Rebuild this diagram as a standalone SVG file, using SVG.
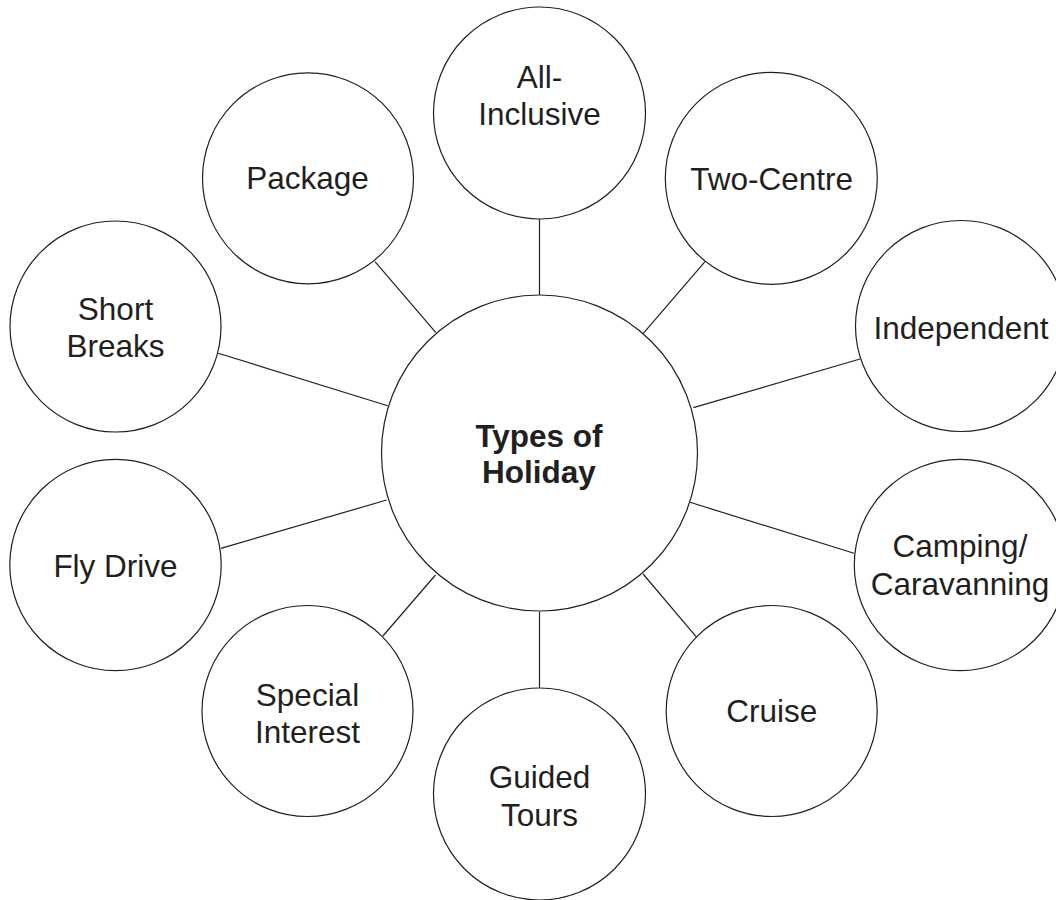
<svg xmlns="http://www.w3.org/2000/svg" width="1056" height="900" viewBox="0 0 1056 900">
<style>
.n{fill:#fff;stroke:#231f20;stroke-width:1.2}
.t{font-family:"Liberation Sans",Arial,sans-serif;font-size:31.5px;fill:#231f20;text-anchor:middle}
.b{font-weight:bold}
.c line{stroke:#231f20;stroke-width:1.2}
</style>
<rect width="1056" height="900" fill="#fff"/>
<g id="connectors" class="c">
<line x1="539.5" y1="219" x2="539.5" y2="295"/>
<line x1="375" y1="261.7" x2="435.7" y2="332.3"/>
<line x1="705" y1="261.7" x2="643.3" y2="333.3"/>
<line x1="218.3" y1="353.3" x2="387.7" y2="405.7"/>
<line x1="860" y1="359" x2="693.3" y2="407.7"/>
<line x1="221" y1="548.3" x2="386.7" y2="500"/>
<line x1="690" y1="502.3" x2="854" y2="553.3"/>
<line x1="382.9" y1="636" x2="435.5" y2="575"/>
<line x1="643.1" y1="574" x2="696.7" y2="637.3"/>
<line x1="539.5" y1="611.7" x2="539.5" y2="688.3"/>
</g>
<g id="center">
<circle class="n" cx="539.5" cy="453" r="158"/>
<text class="t b" x="539" y="446.7">Types of</text>
<text class="t b" x="539" y="483.3">Holiday</text>
</g>
<g id="all-inclusive">
<circle class="n" cx="539.5" cy="113" r="106"/>
<text class="t" x="539.5" y="88.3">All-</text>
<text class="t" x="539.5" y="125">Inclusive</text>
</g>
<g id="package">
<circle class="n" cx="308" cy="178.3" r="105.5"/>
<text class="t" x="307.5" y="189.3">Package</text>
</g>
<g id="two-centre">
<circle class="n" cx="771.3" cy="178.3" r="106"/>
<text class="t" x="771.7" y="190">Two-Centre</text>
</g>
<g id="short-breaks">
<circle class="n" cx="115.5" cy="326.5" r="105.5"/>
<text class="t" x="115.5" y="320">Short</text>
<text class="t" x="115.5" y="357.3">Breaks</text>
</g>
<g id="independent">
<circle class="n" cx="961" cy="326" r="105.5"/>
<text class="t" x="961" y="339">Independent</text>
</g>
<g id="fly-drive">
<circle class="n" cx="115.5" cy="565" r="105.7"/>
<text class="t" x="115.5" y="576.7">Fly Drive</text>
</g>
<g id="camping">
<circle class="n" cx="960" cy="565" r="105.7"/>
<text class="t" x="960" y="556.5">Camping/</text>
<text class="t" x="960" y="595">Caravanning</text>
</g>
<g id="special-interest">
<circle class="n" cx="307.5" cy="711" r="105.5"/>
<text class="t" x="307.5" y="705.7">Special</text>
<text class="t" x="307.5" y="743.3">Interest</text>
</g>
<g id="cruise">
<circle class="n" cx="771.7" cy="711" r="105.5"/>
<text class="t" x="771.7" y="722.3">Cruise</text>
</g>
<g id="guided-tours">
<circle class="n" cx="539.5" cy="794" r="106"/>
<text class="t" x="539.5" y="788.3">Guided</text>
<text class="t" x="539.5" y="826">Tours</text>
</g>
</svg>
